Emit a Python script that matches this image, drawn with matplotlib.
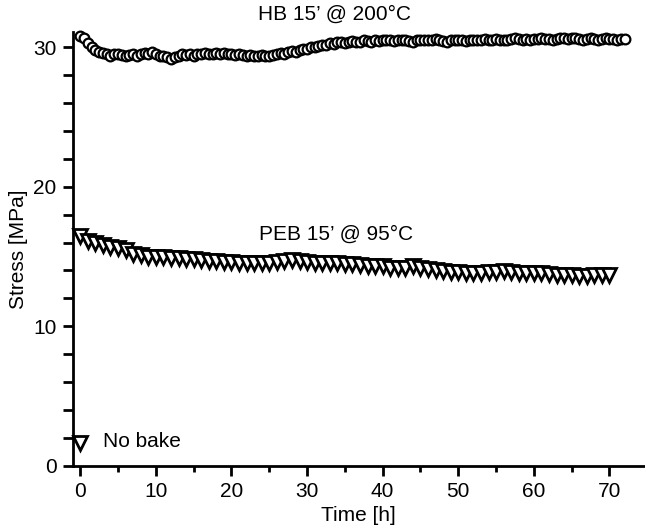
import numpy as np
import matplotlib
matplotlib.use("Agg")
import matplotlib.pyplot as plt
from matplotlib.ticker import MultipleLocator

plt.rcParams['font.family'] = ['Liberation Sans', 'DejaVu Sans']

# HB 15' @ 200°C, sampled every 0.5 h
hb_time = np.arange(0, 72.5, 0.5)
hb_stress = [
    30.8, 30.7, 30.3, 30.0, 29.8, 29.7, 29.6, 29.5, 29.4, 29.5,
    29.5, 29.45, 29.4, 29.45, 29.5, 29.4, 29.5, 29.6, 29.55, 29.65,
    29.5, 29.4, 29.35, 29.3, 29.2, 29.3, 29.4, 29.5, 29.45, 29.5,
    29.4, 29.5, 29.55, 29.6, 29.5, 29.55, 29.6, 29.5, 29.6, 29.55,
    29.5, 29.45, 29.5, 29.45, 29.4, 29.45, 29.4, 29.4, 29.45, 29.4,
    29.4, 29.45, 29.5, 29.6, 29.55, 29.7, 29.75, 29.7, 29.8, 29.85,
    29.9, 30.0, 30.05, 30.1, 30.2, 30.2, 30.3, 30.25, 30.35, 30.4,
    30.3, 30.4, 30.45, 30.35, 30.4, 30.5, 30.45, 30.4, 30.5, 30.45,
    30.5, 30.55, 30.5, 30.45, 30.5, 30.55, 30.5, 30.45, 30.4, 30.5,
    30.55, 30.5, 30.5, 30.55, 30.6, 30.5, 30.45, 30.4, 30.5, 30.55,
    30.5, 30.5, 30.45, 30.5, 30.55, 30.5, 30.55, 30.6, 30.55, 30.5,
    30.6, 30.55, 30.5, 30.55, 30.6, 30.65, 30.6, 30.55, 30.6, 30.55,
    30.6, 30.6, 30.65, 30.6, 30.6, 30.55, 30.6, 30.7, 30.65, 30.6,
    30.7, 30.65, 30.6, 30.55, 30.6, 30.65, 30.6, 30.55, 30.6, 30.65,
    30.6, 30.6, 30.55, 30.6, 30.6,
]

# PEB 15' @ 95°C, sampled every 1 h
peb_time = np.arange(0, 71, 1)
peb_stress = [
    16.5, 16.1, 16.0, 15.8, 15.7, 15.6, 15.5, 15.2, 15.1, 15.0,
    15.0, 14.95, 14.9, 14.9, 14.85, 14.8, 14.75, 14.7, 14.7, 14.6,
    14.6, 14.55, 14.55, 14.5, 14.5, 14.5, 14.6, 14.7, 14.75, 14.65,
    14.6, 14.5, 14.5, 14.5, 14.5, 14.45, 14.45, 14.4, 14.35, 14.3,
    14.3, 14.2, 14.2, 14.15, 14.35, 14.15, 14.1, 14.0, 13.95, 13.9,
    13.9, 13.85, 13.85, 13.85, 13.9, 13.9, 13.95, 13.9, 13.85, 13.85,
    13.8, 13.8, 13.75, 13.7, 13.7, 13.65, 13.6, 13.6, 13.65, 13.65,
    13.65,
]

# No bake
nobake_time = [0]
nobake_stress = [1.6]

FS = 15

fig = plt.figure(figsize=(6.45, 5.25), dpi=100)
ax = fig.add_axes([0.1127, 0.113, 0.885, 0.826])

ax.plot(hb_time, hb_stress, linestyle='none', marker='o', markersize=7,
        markerfacecolor='white', markeredgecolor='black', markeredgewidth=1.6,
        clip_on=False, zorder=3)
ax.plot(peb_time, peb_stress, linestyle='none', marker='v', markersize=10,
        markerfacecolor='white', markeredgecolor='black', markeredgewidth=2,
        clip_on=False, zorder=3)
ax.plot(nobake_time, nobake_stress, linestyle='none', marker='v', markersize=10,
        markerfacecolor='white', markeredgecolor='black', markeredgewidth=2,
        clip_on=False, zorder=3)

ax.set_xlim(-1, 74.5)
ax.set_ylim(0, 31.1)

for s in ['top', 'right']:
    ax.spines[s].set_visible(False)
for s in ['left', 'bottom']:
    ax.spines[s].set_linewidth(2)

ax.xaxis.set_major_locator(MultipleLocator(10))
ax.xaxis.set_minor_locator(MultipleLocator(5))
ax.yaxis.set_major_locator(MultipleLocator(10))
ax.yaxis.set_minor_locator(MultipleLocator(2))
ax.tick_params(axis='x', which='major', length=7.5, width=2, labelsize=FS, pad=4.5)
ax.tick_params(axis='x', which='minor', length=4, width=2)
ax.tick_params(axis='y', which='both', length=7.5, width=2, labelsize=FS, pad=4)

ax.set_xlabel('Time [h]', fontsize=FS, labelpad=3)
ax.set_ylabel('Stress [MPa]', fontsize=FS, labelpad=4)

ax.text(33.6, 32.35, "HB 15’ @ 200°C", fontsize=FS, ha='center', va='center',
        clip_on=False)
ax.text(33.8, 16.6, "PEB 15’ @ 95°C", fontsize=FS, ha='center', va='center')
ax.text(3.0, 1.75, "No bake", fontsize=FS, ha='left', va='center')

fig.savefig('out.png', dpi=100)
